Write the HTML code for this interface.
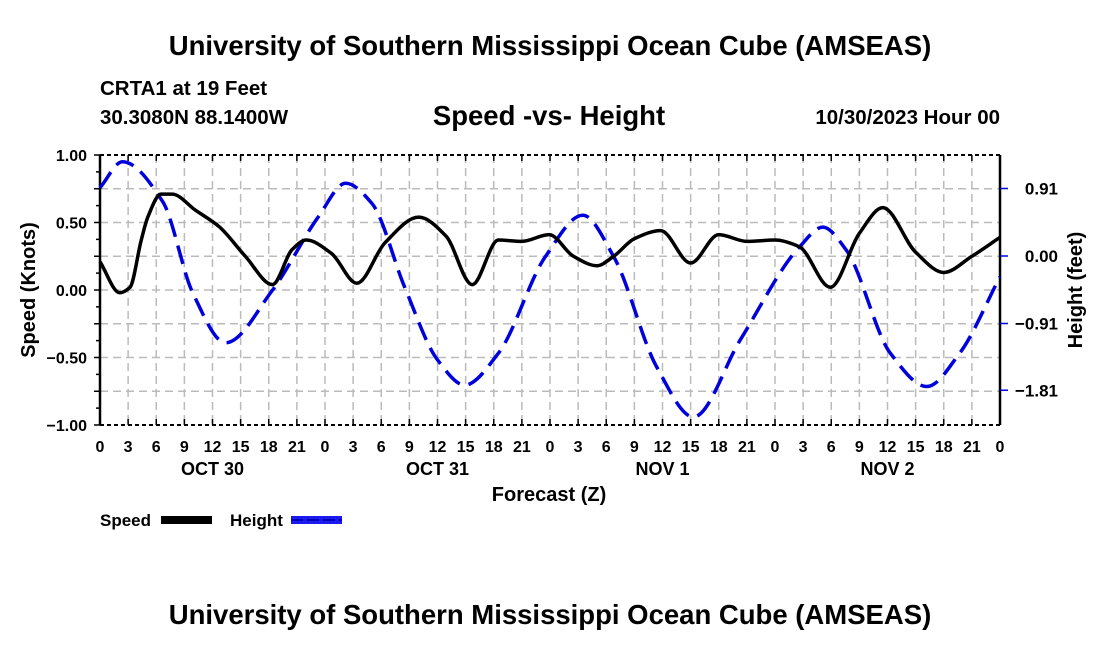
<!DOCTYPE html>
<html><head><meta charset="utf-8"><style>
body{margin:0;background:#fff;width:1100px;height:650px;overflow:hidden}
text{font-family:"Liberation Sans",Arial,sans-serif;font-weight:bold;fill:#000}
</style></head><body>
<svg id="chart" width="1100" height="650" xmlns="http://www.w3.org/2000/svg">
<text x="550" y="55" font-size="27.5" text-anchor="middle">University of Southern Mississippi Ocean Cube (AMSEAS)</text>
<text x="100" y="95" font-size="20.5">CRTA1 at 19 Feet</text>
<text x="100" y="124" font-size="20.5">30.3080N  88.1400W</text>
<text x="549" y="125" font-size="27.5" text-anchor="middle">Speed -vs- Height</text>
<text x="1000" y="124" font-size="20.5" text-anchor="end">10/30/2023 Hour 00</text>
<g id="grid"></g>
<g id="axes"></g>
<g id="series"></g>
<text x="549" y="501" font-size="20" text-anchor="middle">Forecast (Z)</text>
<text transform="translate(35,290) rotate(-90)" font-size="20" text-anchor="middle">Speed (Knots)</text>
<text transform="translate(1082,290) rotate(-90)" font-size="20" text-anchor="middle">Height (feet)</text>
<g>
<text x="100" y="526" font-size="17">Speed</text>
<rect x="161" y="516" width="51" height="8" fill="#000"/>
<text x="230" y="526" font-size="17">Height</text>
<rect x="291" y="516" width="51" height="8" fill="#1a1aee"/>
<line x1="291" y1="520" x2="342" y2="520" stroke="#0000bb" stroke-width="2" stroke-dasharray="12,4"/>
</g>
<text x="550" y="624" font-size="27.5" text-anchor="middle">University of Southern Mississippi Ocean Cube (AMSEAS)</text>
</svg>
<script>
const speedHours=[0,2.1,3.2,4.4,5.1,6.5,7.7,10.2,12.7,15.5,18.4,20.5,22,24.7,27.4,30.4,34,36.9,39.7,42.5,45,47.9,50.5,53,54.8,57,59.8,63,66,69,72,74.6,77.9,81,83.5,87,90,93,96];
const speedValues=[0.21,-0.02,0.02,0.37,0.54,0.71,0.71,0.59,0.47,0.25,0.04,0.30,0.37,0.27,0.05,0.35,0.54,0.40,0.04,0.37,0.36,0.41,0.25,0.18,0.25,0.38,0.44,0.20,0.41,0.36,0.37,0.32,0.02,0.42,0.61,0.28,0.13,0.25,0.39];
const heightHours=[0,2.4,6.7,9.9,13.4,18.4,23.3,26.2,29,32.5,36,38.9,42.5,47.5,51.5,54.8,59.4,63.3,68.3,74.6,77.1,79.6,84.3,88.2,91.7,96];
const heightValues=[0.92,1.27,0.73,-0.50,-1.17,-0.46,0.53,0.98,0.71,-0.42,-1.40,-1.74,-1.31,-0.01,0.55,-0.01,-1.50,-2.17,-1.13,0.12,0.39,0.08,-1.31,-1.76,-1.31,-0.28];
const hourLabels=["0","3","6","9","12","15","18","21"];
const dayLabels=["OCT 30","OCT 31","NOV 1","NOV 2"];
const speedTicks=[1.00,0.50,0.00,-0.50,-1.00];
const heightTicks=[0.91,0.00,-0.91,-1.81];
const NS="http://www.w3.org/2000/svg";
const X0=100,X1=1000,Y0=155,Y1=425;
const xs=h=>X0+(X1-X0)*h/96;
const ys=v=>290-v*135;
const yh=f=>256-f*67.5/0.91;
function mk(tag,attrs,parent,txt){const e=document.createElementNS(NS,tag);for(const k in attrs)e.setAttribute(k,attrs[k]);if(txt!==undefined)e.textContent=txt;parent.appendChild(e);return e;}
const grid=document.getElementById('grid'),axes=document.getElementById('axes'),series=document.getElementById('series');
for(let h=3;h<96;h+=3){const l=mk('line',{x1:xs(h),x2:xs(h),y1:Y0,y2:Y1,stroke:'#bbb','stroke-width':1.5,'stroke-dasharray':'8,5'},grid);

}
for(let v=-0.75;v<1;v+=0.25){const l=mk('line',{x1:X0,x2:X1,y1:ys(v),y2:ys(v),stroke:'#bbb','stroke-width':1.5,'stroke-dasharray':'8,5'},grid);

}
mk('line',{x1:X0,x2:X1,y1:Y0,y2:Y0,stroke:'#000','stroke-width':2,'stroke-dasharray':'4,3'},axes);
mk('line',{x1:X0,x2:X1,y1:Y1,y2:Y1,stroke:'#000','stroke-width':2,'stroke-dasharray':'4,3'},axes);
mk('line',{x1:X0,x2:X0,y1:Y0,y2:Y1,stroke:'#000','stroke-width':2.5},axes);
mk('line',{x1:X1,x2:X1,y1:Y0,y2:Y1,stroke:'#000','stroke-width':2.5},axes);
for(let i=0;i<=32;i++){const h=i*3;
mk('line',{x1:xs(h),x2:xs(h),y1:Y0,y2:Y0+6,stroke:'#000','stroke-width':1.5},axes);
mk('line',{x1:xs(h),x2:xs(h),y1:Y1,y2:Y1-6,stroke:'#000','stroke-width':1.5},axes);
const t=mk('text',{x:xs(h),y:452,'font-size':16,'text-anchor':'middle'},axes,hourLabels[i%8]);

}
dayLabels.forEach((d,i)=>{const t=mk('text',{x:xs(12+24*i),y:475,'font-size':18,'text-anchor':'middle'},axes,d);

});
for(let v=-1;v<=1.001;v+=0.125){mk('line',{x1:X0-(Math.abs(v*4-Math.round(v*4))<0.01?6:4),x2:X0,y1:ys(v),y2:ys(v),stroke:'#000','stroke-width':1.5},axes);}
speedTicks.forEach(v=>{const t=mk('text',{x:87,y:ys(v)+6,'font-size':16,'text-anchor':'end'},axes,(v<0?'\u2212':'')+Math.abs(v).toFixed(2));

});
heightTicks.forEach(v=>{mk('line',{x1:X1,x2:X1+8,y1:yh(v),y2:yh(v),stroke:'#0000dd','stroke-width':1.5},axes);
const t=mk('text',{x:1058,y:yh(v)+6,'font-size':17,'text-anchor':'end'},axes,(v<0?'\u2212':'')+Math.abs(v).toFixed(2));

});
function spline(px){const n=px.length,d=[],m=[];
for(let i=0;i<n-1;i++)d.push((px[i+1][1]-px[i][1])/(px[i+1][0]-px[i][0]));
m[0]=d[0];m[n-1]=d[n-2];
for(let i=1;i<n-1;i++){if(d[i-1]*d[i]<=0)m[i]=0;else{const h0=px[i][0]-px[i-1][0],h1=px[i+1][0]-px[i][0];m[i]=3*(h0+h1)/((2*h1+h0)/d[i-1]+(h1+2*h0)/d[i]);}}
let s='M'+px[0][0]+','+px[0][1];
for(let i=0;i<n-1;i++){const h=(px[i+1][0]-px[i][0])/3;
s+=' C'+(px[i][0]+h)+','+(px[i][1]+m[i]*h)+' '+(px[i+1][0]-h)+','+(px[i+1][1]-m[i+1]*h)+' '+px[i+1][0]+','+px[i+1][1];}
return s;}
const hp=mk('path',{d:spline(heightHours.map((h,i)=>[xs(h),yh(heightValues[i])])),fill:'none',stroke:'#0000dd','stroke-width':3.5,'stroke-dasharray':'19,9'},series);


const sp=mk('path',{d:spline(speedHours.map((h,i)=>[xs(h),ys(speedValues[i])])),fill:'none',stroke:'#000','stroke-width':3.5},series);


</script>
</body></html>
